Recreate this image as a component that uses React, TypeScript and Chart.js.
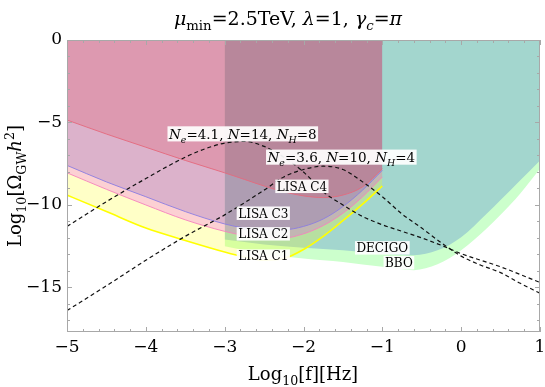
import React, { useEffect, useRef } from 'react';
import { Chart, registerables } from 'chart.js';
Chart.register(...registerables);

const FONT = "'DejaVu Serif', 'Liberation Serif', serif";

const X_MIN = -5, X_MAX = 1, Y_MIN = -17.7, Y_MAX = 0;
const X_TICKS = [-5, -4, -3, -2, -1, 0, 1];
const Y_TICKS = [-15, -10, -5, 0];

// LISA sensitivity curves (log10 f, log10 Omega h^2)
const LISA_X = [-5, -4.5, -4, -3.5, -3, -2.75, -2.5, -2.25, -2, -1.75, -1.5, -1.25, -1];
const LISA_C1 = [-9.4, -10.4, -11.4, -12.15, -12.85, -13.15, -13.35, -13.25, -12.7, -11.9, -10.95, -9.95, -8.85];
const LISA_C2 = [-8.05, -9.05, -10.0, -10.9, -11.6, -11.85, -12.0, -12.0, -11.75, -11.25, -10.5, -9.5, -8.3];
const LISA_C3 = [-7.6, -8.6, -9.5, -10.4, -11.15, -11.4, -11.5, -11.5, -11.3, -10.85, -10.1, -9.1, -7.9];
const LISA_C4 = [-4.85, -5.7, -6.5, -7.3, -8.05, -8.45, -8.85, -9.2, -9.45, -9.55, -9.4, -8.9, -7.8];

// DECIGO / BBO
const DET_X = [-3, -2.5, -2, -1.5, -1, -0.6, -0.3, 0, 0.33, 0.5, 0.75, 1];
const DECIGO_Y = [-12.1, -12.4, -12.6, -12.75, -12.95, -13.05, -12.75, -11.95, -10.5, -9.7, -8.5, -7.3];
const BBO_Y = [-12.5, -12.95, -13.25, -13.45, -13.75, -13.95, -13.6, -12.75, -11.4, -10.6, -9.3, -7.8];

// GW spectra (dashed)
const NE41_X = [-5, -4.5, -4, -3.5, -3.25, -3, -2.75, -2.5, -2.25, -2, -1.75, -1.5, -1.25, -1, -0.75, -0.5, -0.25, 0, 0.5, 1];
const NE41_Y = [-11.3, -9.8, -8.4, -7.1, -6.6, -6.25, -6.15, -6.45, -7.1, -8.0, -9.2, -10.0, -10.7, -11.2, -11.6, -12.0, -12.45, -12.95, -13.75, -14.7];
const NE36_X = [-5, -4.5, -4, -3.5, -3, -2.5, -2.25, -2, -1.75, -1.5, -1.25, -1, -0.75, -0.5, -0.25, 0, 0.25, 0.5, 0.75, 1];
const NE36_Y = [-16.4, -14.9, -13.35, -11.9, -10.6, -9.1, -8.3, -7.85, -7.65, -7.85, -8.6, -9.5, -10.55, -11.4, -12.3, -13.1, -13.65, -14.1, -14.75, -15.35];

type Seg = { t: string; it?: boolean; sub?: boolean; sup?: boolean };

const LABEL_TEXTS: Seg[][] = [
  [{ t: 'N', it: true }, { t: 'e', it: true, sub: true }, { t: '=4.1, ' }, { t: 'N', it: true }, { t: '=14, ' }, { t: 'N', it: true }, { t: 'H', it: true, sub: true }, { t: '=8' }],
  [{ t: 'N', it: true }, { t: 'e', it: true, sub: true }, { t: '=3.6, ' }, { t: 'N', it: true }, { t: '=10, ' }, { t: 'N', it: true }, { t: 'H', it: true, sub: true }, { t: '=4' }],
  [{ t: 'LISA C4' }],
  [{ t: 'LISA C3' }],
  [{ t: 'LISA C2' }],
  [{ t: 'LISA C1' }],
  [{ t: 'DECIGO' }],
  [{ t: 'BBO' }],
];
const LABEL_SIZE = [13.5, 13.5, 12, 12, 12, 12, 12, 12];
const LABEL_X = [-2.77, -1.52, -2.02, -2.51, -2.51, -2.51, -1.0, -0.79];
const LABEL_Y = [-5.69, -7.1, -8.87, -10.5, -11.75, -13.1, -12.6, -13.5];

const TITLE: Seg[] = [
  { t: 'μ', it: true }, { t: 'min', sub: true }, { t: '=2.5TeV, ' }, { t: 'λ', it: true }, { t: '=1, ' },
  { t: 'γ', it: true }, { t: 'c', it: true, sub: true }, { t: '=' }, { t: 'π', it: true },
];
const X_TITLE: Seg[] = [{ t: 'Log' }, { t: '10', sub: true }, { t: '[f][Hz]' }];
const Y_TITLE: Seg[] = [{ t: 'Log' }, { t: '10', sub: true }, { t: '[Ω' }, { t: 'GW', sub: true }, { t: 'h', it: true }, { t: '2', sup: true }, { t: ']' }];

function segFont(s: Seg, size: number) {
  const sz = s.sub || s.sup ? size * 0.7 : size;
  return `${s.it ? 'italic ' : ''}${sz}px ${FONT}`;
}
function measureRich(ctx: CanvasRenderingContext2D, segs: Seg[], size: number) {
  ctx.textAlign = 'left';
  let w = 0;
  for (const s of segs) { ctx.font = segFont(s, size); w += ctx.measureText(s.t).width; }
  return w;
}
function drawRich(ctx: CanvasRenderingContext2D, segs: Seg[], size: number, x: number, y: number) {
  ctx.textAlign = 'left';
  ctx.textBaseline = 'alphabetic';
  let cx = x;
  for (const s of segs) {
    ctx.font = segFont(s, size);
    const dy = s.sub ? size * 0.28 : s.sup ? -size * 0.4 : 0;
    ctx.fillText(s.t, cx, y + dy);
    cx += ctx.measureText(s.t).width;
  }
}

const pts = (xs: number[], ys: number[]) => xs.map((x, i) => ({ x, y: ys[i] }));
const fmt = (v: number) => (v < 0 ? '\u2212' + Math.abs(v) : String(v));

const overlay = {
  id: 'overlay',
  afterDatasetsDraw(chart: any) {
    const { ctx, scales } = chart;
    const xs = scales.x, ys = scales.y;
    ctx.save();
    LABEL_TEXTS.forEach((segs, i) => {
      const size = LABEL_SIZE[i];
      const cx = xs.getPixelForValue(LABEL_X[i]);
      const cy = ys.getPixelForValue(LABEL_Y[i]);
      const w = measureRich(ctx, segs, size);
      const h = size * 1.12;
      ctx.fillStyle = 'rgba(255,255,255,0.92)';
      ctx.fillRect(cx - w / 2 - 1.5, cy - h / 2, w + 3, h);
      ctx.fillStyle = '#000';
      drawRich(ctx, segs, size, cx - w / 2, cy + size * 0.36);
    });
    ctx.restore();
  },
  afterDraw(chart: any) {
    const { ctx, chartArea: a, scales } = chart;
    const xs = scales.x, ys = scales.y;
    ctx.save();
    ctx.strokeStyle = '#a8a8a8';
    ctx.lineWidth = 1;
    ctx.setLineDash([]);
    ctx.strokeRect(Math.round(a.left) + 0.5, Math.round(a.top) + 0.5, Math.round(a.right - a.left) - 1, Math.round(a.bottom - a.top) - 1);
    ctx.beginPath();
    for (let k = 0; k <= 30; k++) {
      const v = X_MIN + k * 0.2;
      const px = Math.round(xs.getPixelForValue(v)) + 0.5;
      const len = k % 5 === 0 ? 5 : 3;
      ctx.moveTo(px, a.bottom); ctx.lineTo(px, a.bottom - len);
      ctx.moveTo(px, a.top); ctx.lineTo(px, a.top + len);
    }
    for (let v = -17; v <= 0; v++) {
      const py = Math.round(ys.getPixelForValue(v)) + 0.5;
      const len = v % 5 === 0 ? 5 : 3;
      ctx.moveTo(a.left, py); ctx.lineTo(a.left + len, py);
      ctx.moveTo(a.right, py); ctx.lineTo(a.right - len, py);
    }
    ctx.stroke();
    ctx.fillStyle = '#000';
    const tSize = 19;
    const tw = measureRich(ctx, TITLE, tSize);
    drawRich(ctx, TITLE, tSize, 288 - tw / 2, 25);
    const axSize = 18;
    const xw = measureRich(ctx, X_TITLE, axSize);
    drawRich(ctx, X_TITLE, axSize, 303 - xw / 2, 380);
    const yw = measureRich(ctx, Y_TITLE, axSize);
    ctx.translate(21, (a.top + a.bottom) / 2);
    ctx.rotate(-Math.PI / 2);
    drawRich(ctx, Y_TITLE, axSize, -yw / 2, 0);
    ctx.restore();
  },
};

export default function App() {
  const ref = useRef<HTMLCanvasElement>(null);
  useEffect(() => {
    const base = { pointRadius: 0, pointHoverRadius: 0, cubicInterpolationMode: 'monotone' as const };
    const chart = new Chart(ref.current!, {
      type: 'line',
      data: {
        datasets: [
          { ...base, label: 'BBO', data: pts(DET_X, BBO_Y), borderWidth: 0, borderColor: 'rgba(0,0,0,0)', backgroundColor: 'rgb(204,255,204)', fill: 'end', order: 10 },
          { ...base, label: 'DECIGO', data: pts(DET_X, DECIGO_Y), borderWidth: 0, borderColor: 'rgba(0,0,0,0)', backgroundColor: 'rgb(163,214,206)', fill: 'end', order: 9 },
          { ...base, label: 'LISA C1', data: pts(LISA_X, LISA_C1), borderWidth: 1.6, borderColor: 'rgb(255,255,0)', backgroundColor: 'rgba(255,255,0,0.22)', fill: 'end', order: 8 },
          { ...base, label: 'LISA C2', data: pts(LISA_X, LISA_C2), borderWidth: 1, borderColor: 'rgba(245,130,190,0.9)', backgroundColor: 'rgba(240,20,255,0.2)', fill: 'end', order: 7 },
          { ...base, label: 'LISA C3', data: pts(LISA_X, LISA_C3), borderWidth: 1, borderColor: 'rgba(140,125,225,0.9)', backgroundColor: 'rgba(97,58,177,0.2)', fill: 'end', order: 6 },
          { ...base, label: 'LISA C4', data: pts(LISA_X, LISA_C4), borderWidth: 1, borderColor: 'rgba(228,105,125,0.9)', backgroundColor: 'rgba(226,48,65,0.2)', fill: 'end', order: 5 },
          { ...base, label: 'Ne=4.1', data: pts(NE41_X, NE41_Y), borderWidth: 1.2, borderColor: '#111', borderDash: [4, 3], fill: false, order: 2 },
          { ...base, label: 'Ne=3.6', data: pts(NE36_X, NE36_Y), borderWidth: 1.2, borderColor: '#111', borderDash: [4, 3], fill: false, order: 1 },
        ],
      },
      options: {
        responsive: false,
        animation: false,
        devicePixelRatio: 1,
        layout: { padding: { left: 0, right: 5, top: 40, bottom: 0 } },
        plugins: { legend: { display: false }, tooltip: { enabled: false }, filler: { propagate: false } },
        events: [],
        scales: {
          x: {
            type: 'linear', min: X_MIN, max: X_MAX,
            grid: { display: false, drawTicks: false },
            border: { display: false },
            afterBuildTicks: (s: any) => { s.ticks = X_TICKS.map((v) => ({ value: v })); },
            afterFit: (s: any) => { s.height = 55; s.paddingLeft = 0; s.paddingRight = 0; },
            ticks: { color: '#000', font: { family: FONT, size: 17 }, padding: 5, maxRotation: 0, callback: (v: any) => fmt(Number(v)) },
          },
          y: {
            type: 'linear', min: Y_MIN, max: Y_MAX,
            grid: { display: false, drawTicks: false },
            border: { display: false },
            afterBuildTicks: (s: any) => { s.ticks = Y_TICKS.map((v) => ({ value: v })); },
            afterFit: (s: any) => { s.width = 67; s.paddingTop = 0; s.paddingBottom = 0; },
            ticks: { color: '#000', font: { family: FONT, size: 17 }, padding: 5, callback: (v: any) => fmt(Number(v)) },
          },
        },
      },
      plugins: [overlay],
    } as any);
    return () => chart.destroy();
  }, []);
  return (
    <canvas ref={ref} width={545} height={387} style={{ position: 'absolute', left: 0, top: 0, width: 545, height: 387 }} />
  );
}
